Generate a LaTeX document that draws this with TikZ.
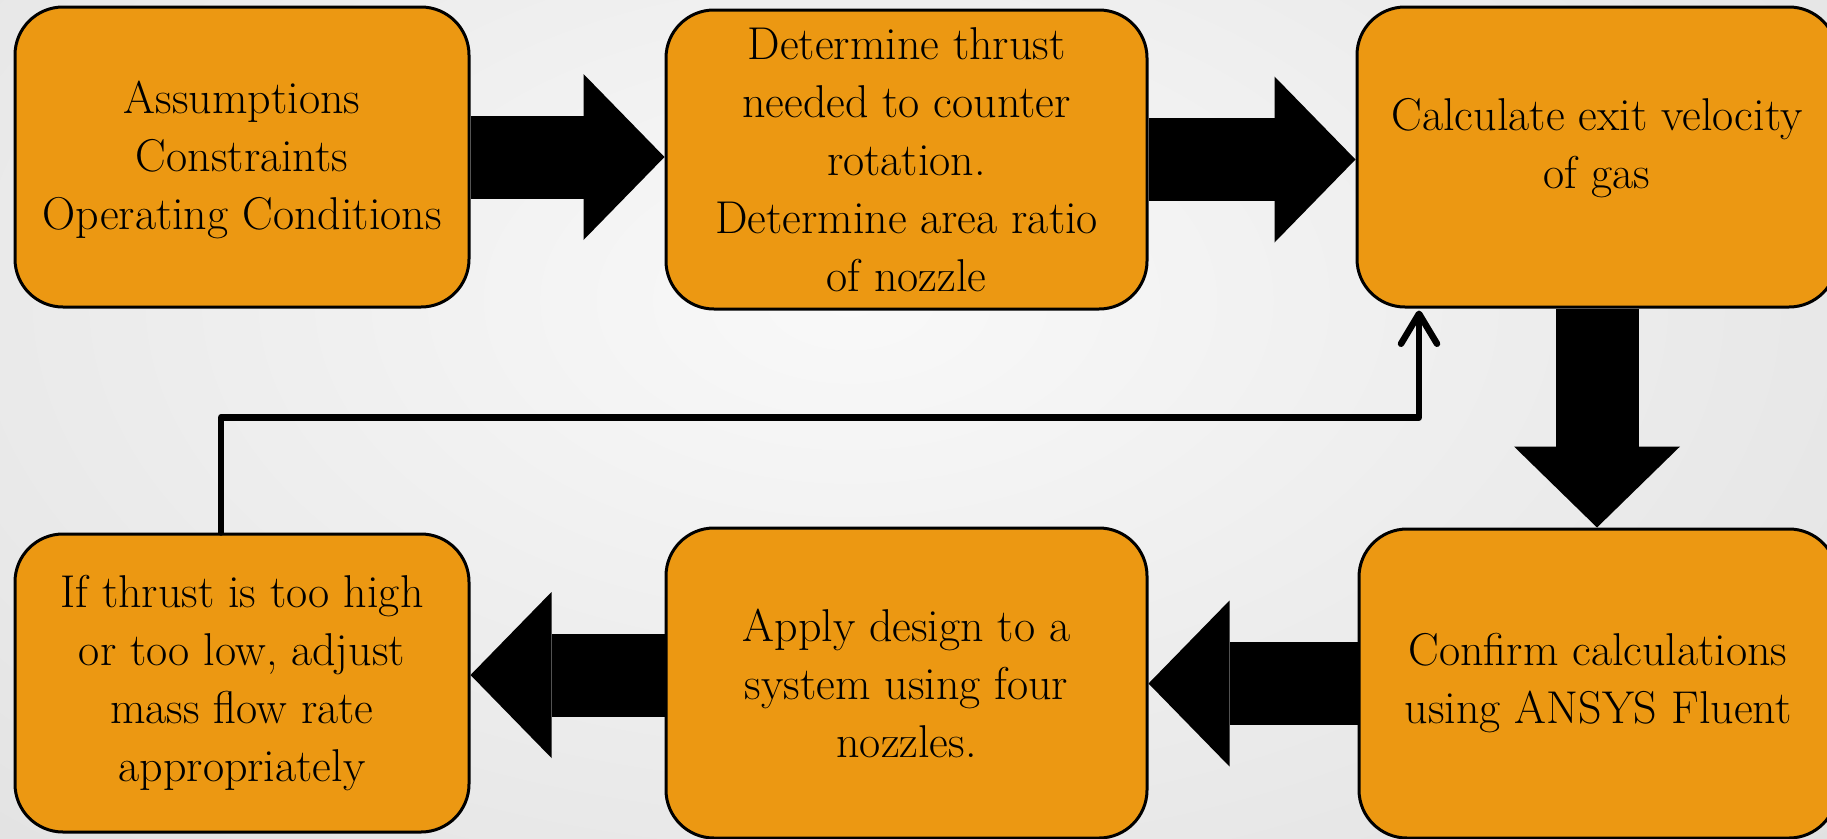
\documentclass[tikz,border=0pt]{standalone}
\usetikzlibrary{arrows.meta,calc}
\definecolor{boxfill}{RGB}{236,152,18}
\definecolor{bgin}{RGB}{249,249,249}
\definecolor{bgout}{RGB}{210,210,210}
\begin{document}
\begin{tikzpicture}[x=1pt,y=-1pt,
  box/.style={draw=black, line width=3pt, fill=boxfill, rounded corners=48pt,
    inner sep=0pt, align=center, font=\fontsize{46}{58}\selectfont},
  btext/.style={inner sep=0pt, align=center, font=\fontsize{46}{58}\selectfont},
  fat/.style={draw=black, line width=83pt, -{Triangle[length=81pt,width=166pt,line width=0pt]}},
  fb/.style={draw=black, line width=6.5pt, line cap=round, line join=round,
    -{Straight Barb[length=30pt,width=36pt,round]}}]
\useasboundingbox (0,0) rectangle (1827,838);
\begin{scope}
  \clip (0,0) rectangle (1827,838);
  \fill[bgout] (0,0) rectangle (1827,838);
  \shade[inner color=bgin, outer color=bgout] (850,300) ellipse [x radius=2200pt, y radius=1300pt];
\end{scope}

\node[box, minimum width=454pt, minimum height=300pt] (b1) at (242,157) {};
\node[btext] (b1t) at ([yshift=-3pt]b1.center) {Assumptions\\Constraints\\Operating Conditions};
\node[box, minimum width=481pt, minimum height=299pt] (b2) at (906.5,159.5)
  {Determine thrust\\needed to counter\\rotation.\\Determine area ratio\\of nozzle};
\node[box, minimum width=480pt, minimum height=300pt] (b3) at (1597,157) {};
\node[btext] (b3t) at ([yshift=9pt]b3.center) {Calculate exit velocity\\of gas};
\node[box, minimum width=478pt, minimum height=309pt] (b4) at (1598,683.5)
  {Confirm calculations\\using ANSYS Fluent};
\node[box, minimum width=481pt, minimum height=310pt] (b5) at (906.5,683)
  {Apply design to a\\system using four\\nozzles.};
\node[box, minimum width=454pt, minimum height=298pt] (b6) at (242,683)
  {If thrust is too high\\or too low, adjust\\mass flow rate\\appropriately};

\draw[fat] (b1.east) -- (b1.east -| b2.west);
\draw[fat] (b2.east) -- (b2.east -| b3.west);
\draw[fat] (b3.south) -- (b3.south |- b4.north);
\draw[fat] (b4.west) -- (b4.west -| b5.east);
\draw[fat] ([yshift=8pt]b5.west) -- ([yshift=8pt]b5.west -| b6.east);

\coordinate (fbs) at ([xshift=-21pt]b6.north);
\coordinate (fbe) at ([xshift=-178pt,yshift=-2pt]b3.south);
\draw[fb] (fbs) -- ++(0,-115) -| (fbe);
\end{tikzpicture}
\end{document}
